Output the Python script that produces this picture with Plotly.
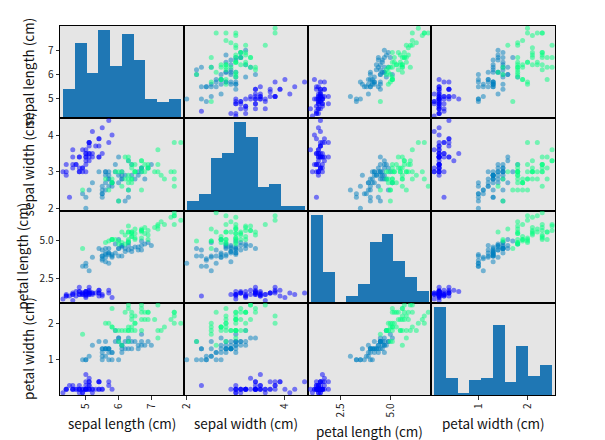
import numpy as np
import plotly.graph_objects as go
from plotly.subplots import make_subplots

# iris data (sklearn order)
sepal_length = [5.1, 4.9, 4.7, 4.6, 5.0, 5.4, 4.6, 5.0, 4.4, 4.9, 5.4, 4.8, 4.8, 4.3, 5.8, 5.7, 5.4, 5.1, 5.7, 5.1,
                5.4, 5.1, 4.6, 5.1, 4.8, 5.0, 5.0, 5.2, 5.2, 4.7, 4.8, 5.4, 5.2, 5.5, 4.9, 5.0, 5.5, 4.9, 4.4, 5.1,
                5.0, 4.5, 4.4, 5.0, 5.1, 4.8, 5.1, 4.6, 5.3, 5.0,
                7.0, 6.4, 6.9, 5.5, 6.5, 5.7, 6.3, 4.9, 6.6, 5.2, 5.0, 5.9, 6.0, 6.1, 5.6, 6.7, 5.6, 5.8, 6.2, 5.6,
                5.9, 6.1, 6.3, 6.1, 6.4, 6.6, 6.8, 6.7, 6.0, 5.7, 5.5, 5.5, 5.8, 6.0, 5.4, 6.0, 6.7, 6.3, 5.6, 5.5,
                5.5, 6.1, 5.8, 5.0, 5.6, 5.7, 5.7, 6.2, 5.1, 5.7,
                6.3, 5.8, 7.1, 6.3, 6.5, 7.6, 4.9, 7.3, 6.7, 7.2, 6.5, 6.4, 6.8, 5.7, 5.8, 6.4, 6.5, 7.7, 7.7, 6.0,
                6.9, 5.6, 7.7, 6.3, 6.7, 7.2, 6.2, 6.1, 6.4, 7.2, 7.4, 7.9, 6.4, 6.3, 6.1, 7.7, 6.3, 6.4, 6.0, 6.9,
                6.7, 6.9, 5.8, 6.8, 6.7, 6.7, 6.3, 6.5, 6.2, 5.9]
sepal_width = [3.5, 3.0, 3.2, 3.1, 3.6, 3.9, 3.4, 3.4, 2.9, 3.1, 3.7, 3.4, 3.0, 3.0, 4.0, 4.4, 3.9, 3.5, 3.8, 3.8,
               3.4, 3.7, 3.6, 3.3, 3.4, 3.0, 3.4, 3.5, 3.4, 3.2, 3.1, 3.4, 4.1, 4.2, 3.1, 3.2, 3.5, 3.6, 3.0, 3.4,
               3.5, 2.3, 3.2, 3.5, 3.8, 3.0, 3.8, 3.2, 3.7, 3.3,
               3.2, 3.2, 3.1, 2.3, 2.8, 2.8, 3.3, 2.4, 2.9, 2.7, 2.0, 3.0, 2.2, 2.9, 2.9, 3.1, 3.0, 2.7, 2.2, 2.5,
               3.2, 2.8, 2.5, 2.8, 2.9, 3.0, 2.8, 3.0, 2.9, 2.6, 2.4, 2.4, 2.7, 2.7, 3.0, 3.4, 3.1, 2.3, 3.0, 2.5,
               2.6, 3.0, 2.6, 2.3, 2.7, 3.0, 2.9, 2.9, 2.5, 2.8,
               3.3, 2.7, 3.0, 2.9, 3.0, 3.0, 2.5, 2.9, 2.5, 3.6, 3.2, 2.7, 3.0, 2.5, 2.8, 3.2, 3.0, 3.8, 2.6, 2.2,
               3.2, 2.8, 2.8, 2.7, 3.3, 3.2, 2.8, 3.0, 2.8, 3.0, 2.8, 3.8, 2.8, 2.8, 2.6, 3.0, 3.4, 3.1, 3.0, 3.1,
               3.1, 3.1, 2.7, 3.2, 3.3, 3.0, 2.5, 3.0, 3.4, 3.0]
petal_length = [1.4, 1.4, 1.3, 1.5, 1.4, 1.7, 1.4, 1.5, 1.4, 1.5, 1.5, 1.6, 1.4, 1.1, 1.2, 1.5, 1.3, 1.4, 1.7, 1.5,
                1.7, 1.5, 1.0, 1.7, 1.9, 1.6, 1.6, 1.5, 1.4, 1.6, 1.6, 1.5, 1.5, 1.4, 1.5, 1.2, 1.3, 1.4, 1.3, 1.5,
                1.3, 1.3, 1.3, 1.6, 1.9, 1.4, 1.6, 1.4, 1.5, 1.4,
                4.7, 4.5, 4.9, 4.0, 4.6, 4.5, 4.7, 3.3, 4.6, 3.9, 3.5, 4.2, 4.0, 4.7, 3.6, 4.4, 4.5, 4.1, 4.5, 3.9,
                4.8, 4.0, 4.9, 4.7, 4.3, 4.4, 4.8, 5.0, 4.5, 3.5, 3.8, 3.7, 3.9, 5.1, 4.5, 4.5, 4.7, 4.4, 4.1, 4.0,
                4.4, 4.6, 4.0, 3.3, 4.2, 4.2, 4.2, 4.3, 3.0, 4.1,
                6.0, 5.1, 5.9, 5.6, 5.8, 6.6, 4.5, 6.3, 5.8, 6.1, 5.1, 5.3, 5.5, 5.0, 5.1, 5.3, 5.5, 6.7, 6.9, 5.0,
                5.7, 4.9, 6.7, 4.9, 5.7, 6.0, 4.8, 4.9, 5.6, 5.8, 6.1, 6.4, 5.6, 5.1, 5.6, 6.1, 5.6, 5.5, 4.8, 5.4,
                5.6, 5.1, 5.1, 5.9, 5.7, 5.2, 5.0, 5.2, 5.4, 5.1]
petal_width = [0.2, 0.2, 0.2, 0.2, 0.2, 0.4, 0.3, 0.2, 0.2, 0.1, 0.2, 0.2, 0.1, 0.1, 0.2, 0.4, 0.4, 0.3, 0.3, 0.3,
               0.2, 0.4, 0.2, 0.5, 0.2, 0.2, 0.4, 0.2, 0.2, 0.2, 0.2, 0.4, 0.1, 0.2, 0.2, 0.2, 0.2, 0.1, 0.2, 0.2,
               0.3, 0.3, 0.2, 0.6, 0.4, 0.3, 0.2, 0.2, 0.2, 0.2,
               1.4, 1.5, 1.5, 1.3, 1.5, 1.3, 1.6, 1.0, 1.3, 1.4, 1.0, 1.5, 1.0, 1.4, 1.3, 1.4, 1.5, 1.0, 1.5, 1.1,
               1.8, 1.3, 1.5, 1.2, 1.3, 1.4, 1.4, 1.7, 1.5, 1.0, 1.1, 1.0, 1.2, 1.6, 1.5, 1.6, 1.5, 1.3, 1.3, 1.3,
               1.2, 1.4, 1.2, 1.0, 1.3, 1.2, 1.3, 1.3, 1.1, 1.3,
               2.5, 1.9, 2.1, 1.8, 2.2, 2.1, 1.7, 1.8, 1.8, 2.5, 2.0, 1.9, 2.1, 2.0, 2.4, 2.3, 1.8, 2.2, 2.3, 1.5,
               2.3, 2.0, 2.0, 1.8, 2.1, 1.8, 1.8, 1.8, 2.1, 1.6, 1.9, 2.0, 2.2, 1.5, 1.4, 2.3, 2.4, 1.8, 1.8, 2.1,
               2.4, 2.3, 1.9, 2.3, 2.5, 2.3, 1.9, 2.0, 2.3, 1.8]
target = [0] * 50 + [1] * 50 + [2] * 50

names = ["sepal length (cm)", "sepal width (cm)", "petal length (cm)", "petal width (cm)"]
columns = [sepal_length, sepal_width, petal_length, petal_width]
tick_vals = [[5, 6, 7], [2, 3, 4], [2.5, 5.0], [1, 2]]
xtick_vals = [[5, 6, 7], [2, 4], [2.5, 5.0], [1, 2]]
tick_fmt = ["", "", ".1f", ""]

winter = ["#0000FF", "#0080BF", "#00FF80"]  # winter cmap at 0, 0.5, 1
pt_colors = [winter[t] for t in target]

n = len(columns)
fig = make_subplots(rows=n, cols=n, horizontal_spacing=0, vertical_spacing=0)

# pandas style boundaries, 5% padding
bounds = []
for col in columns:
    lo, hi = min(col), max(col)
    pad = (hi - lo) * 0.05 / 2
    bounds.append((lo - pad, hi + pad))

font = "Noto Sans CJK KR"
axis_common = dict(showline=True, mirror=True, linecolor="black", linewidth=1,
                   showgrid=False, zeroline=False, ticks="outside", ticklen=3.5,
                   tickcolor="#333333", tickfont=dict(size=10, color="#222222"))

for i in range(n):
    for j in range(n):
        r, c = i + 1, j + 1
        if i == j:
            counts, edges = np.histogram(columns[i], bins=10)
            centers = (edges[:-1] + edges[1:]) / 2
            fig.add_trace(go.Bar(x=centers, y=counts, width=edges[1] - edges[0],
                                 marker=dict(color="#1f77b4", line=dict(width=0)),
                                 showlegend=False), row=r, col=c)
            ymax = counts.max() * 1.05
            if i == 0:
                # map the data ticks onto the count axis
                lo, hi = bounds[0]
                tv = [(v - lo) / (hi - lo) * ymax for v in tick_vals[0]]
                fig.update_yaxes(range=[0, ymax], tickvals=tv, ticktext=[str(v) for v in tick_vals[0]],
                                 row=r, col=c, **axis_common)
            else:
                fig.update_yaxes(range=[0, ymax], showticklabels=False, row=r, col=c,
                                 **{**axis_common, "ticks": ""})
        else:
            fig.add_trace(go.Scatter(x=columns[j], y=columns[i], mode="markers",
                                     marker=dict(color=pt_colors, size=5, opacity=0.5, line=dict(width=0)),
                                     showlegend=False), row=r, col=c)
            if j == 0:
                fig.update_yaxes(range=list(bounds[i]), tickvals=tick_vals[i], tickformat=tick_fmt[i],
                                 row=r, col=c, **axis_common)
            else:
                fig.update_yaxes(range=list(bounds[i]), showticklabels=False, row=r, col=c,
                                 **{**axis_common, "ticks": ""})
        if i == n - 1:
            fig.update_xaxes(range=list(bounds[j]), tickvals=xtick_vals[j], tickformat=tick_fmt[j],
                             tickangle=-90, row=r, col=c, **axis_common)
        else:
            fig.update_xaxes(range=list(bounds[j]), showticklabels=False, row=r, col=c,
                             **{**axis_common, "ticks": ""})

# axis labels
xshift_lab = [-32, -32, -38, -32]
yshift_lab = [-28, -28, -36, -28]
for k in range(n):
    fig.add_annotation(text=names[k], xref="paper", yref="paper", x=(k + 0.5) / n, y=0,
                       xanchor="center", yanchor="middle", yshift=yshift_lab[k], showarrow=False,
                       font=dict(size=13.5, color="#111111"))
    fig.add_annotation(text=names[k], xref="paper", yref="paper", x=0, y=1 - (k + 0.5) / n,
                       xanchor="center", yanchor="middle", xshift=xshift_lab[k], textangle=-90,
                       showarrow=False, font=dict(size=13.5, color="#111111"))

fig.update_layout(width=605, height=440, margin=dict(l=60, r=50, t=26, b=45),
                  paper_bgcolor="white", plot_bgcolor="#E5E5E5",
                  font=dict(family=font, color="#222222"), bargap=0)

fig.write_html("out.html", config={"displayModeBar": False},
               post_script="document.body.style.margin='0';")
